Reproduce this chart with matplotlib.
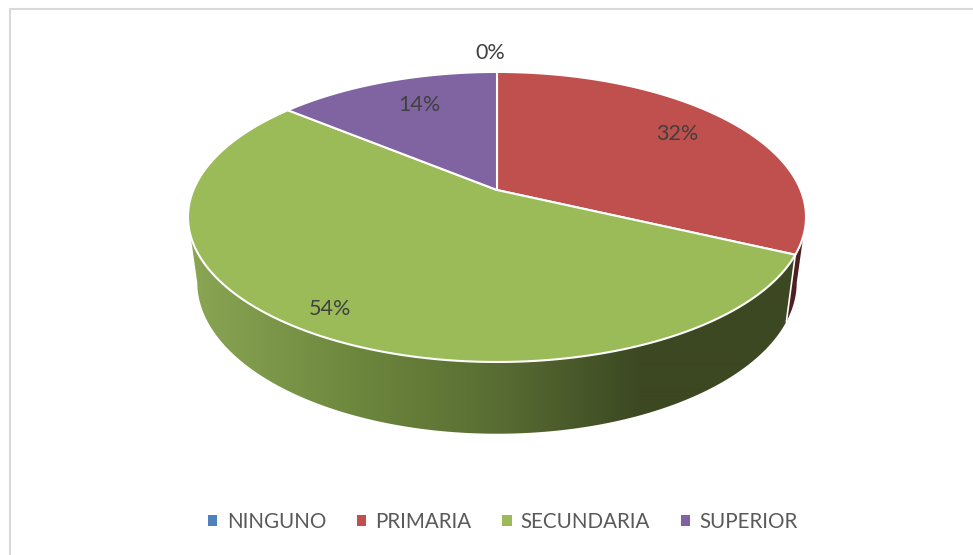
import matplotlib
matplotlib.use('Agg')
import matplotlib.pyplot as plt
from matplotlib.patches import Polygon, Patch
import numpy as np

categories = ['NINGUNO', 'PRIMARIA', 'SECUNDARIA', 'SUPERIOR']
values = [0, 32, 54, 14]
colors = ['#4f81bd', '#c0504d', '#9bbb59', '#8064a2']
label_pos = [(490, 53), (677, 134), (330, 309), (419, 105)]

plt.rcParams['font.family'] = ['Lato', 'DejaVu Sans']

# perspective of the disc, in pixels
CX, APEX_Y, A, B, K = 497, 190, 303.6, 140, 0.186
BASE_Y, BASE_S, BASE_SY = 254, 0.97, 1.045


def ring(t, y0=APEX_Y, s=1.0, sy=1.0):
    u, v = np.sin(t), np.cos(t)
    d = 1 + K * v
    return np.column_stack([CX + s * A * u / d, y0 - sy * B * v / d])


def base_ring(t):
    return ring(t, BASE_Y, BASE_S, BASE_SY)


fig = plt.figure(figsize=(9.73, 5.55), dpi=100)
ax = fig.add_axes([0, 0, 1, 1])
ax.axis('off')

edges = np.cumsum([0] + values) / sum(values) * 2 * np.pi

# side wall, only the front part shows
xs = np.arange(180, 820)
shade = np.column_stack([
    np.interp(xs, [190, 350, 500, 640, 800], [138, 110, 88, 60, 60]),
    np.interp(xs, [190, 350, 500, 640, 800], [166, 136, 108, 72, 72]),
    np.interp(xs, [190, 350, 500, 640, 800], [84, 62, 50, 34, 34]),
]) / 255
dark_red = np.full_like(shade, 0) + np.array([0x4f, 0x1f, 0x20]) / 255
for i, grad in [(1, dark_red), (2, shade)]:
    t = np.linspace(max(edges[i], np.pi / 2 + 0.19), min(edges[i + 1], 3 * np.pi / 2 - 0.19), 300)
    outline = np.vstack([ring(t), base_ring(t)[::-1]])
    im = ax.imshow(grad[np.newaxis, :, :], extent=(180, 820, 440, 200), aspect='auto', interpolation='bilinear')
    clip = Polygon(outline, closed=True, transform=ax.transData)
    im.set_clip_path(clip)

ax.set_xlim(0, 973)
ax.set_ylim(555, 0)

# chart frame
ax.plot([9.5, 9.5, 973], [555, 8.5, 8.5], color='#d9d9d9', lw=1.5)

seam_t = np.array([edges[2]])
seam_top = ring(seam_t)[0]
seam_base = base_ring(seam_t)[0]
ax.plot([seam_top[0], seam_base[0]], [seam_top[1], seam_base[1]], color='white', lw=1.2)

# top face
for i in range(len(values)):
    if values[i] == 0:
        continue
    t = np.linspace(edges[i], edges[i + 1], 200)
    pts = np.vstack([[CX, APEX_Y], ring(t)])
    ax.add_patch(Polygon(pts, closed=True, fc=colors[i], ec='white', lw=1.5, joinstyle='round'))

for v, (x, y) in zip(values, label_pos):
    ax.text(x, y, f'{v}%', ha='center', va='center', fontsize=15.5, color='#404040')

handles = [Patch(fc=c, ec='none') for c in colors]
ax.legend(handles, categories, loc='center', bbox_to_anchor=(503 / 973, 1 - 522 / 555), ncols=4,
          frameon=False, fontsize=14.8, labelcolor='#595959', handlelength=0.45, handleheight=0.45,
          handletextpad=0.45, columnspacing=1.5)

plt.savefig('out.png', dpi=100)
